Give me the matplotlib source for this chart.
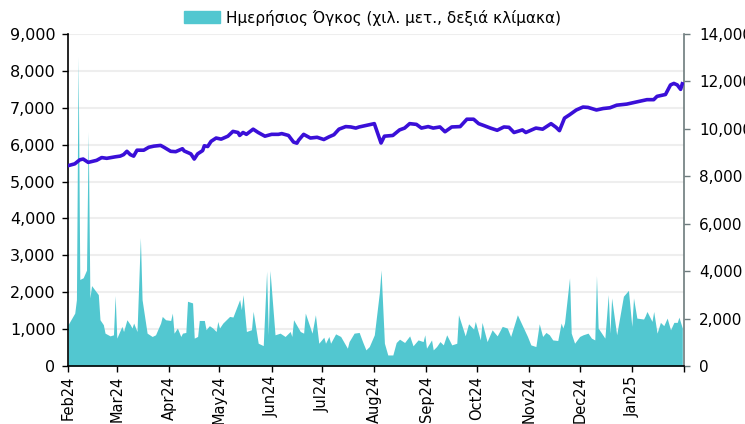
import pandas as pd
import matplotlib.pyplot as plt
from matplotlib.patches import Patch
from matplotlib.ticker import FuncFormatter

# index level (left scale)
line_dates = ["2024-02-01", "2024-02-05", "2024-02-08", "2024-02-10", "2024-02-13", "2024-02-18",
              "2024-02-21", "2024-02-24", "2024-02-29", "2024-03-03", "2024-03-05", "2024-03-07",
              "2024-03-09", "2024-03-11", "2024-03-13", "2024-03-17", "2024-03-20", "2024-03-23",
              "2024-03-27", "2024-03-29", "2024-04-02", "2024-04-05", "2024-04-09", "2024-04-10",
              "2024-04-13", "2024-04-14", "2024-04-16", "2024-04-18", "2024-04-21", "2024-04-22",
              "2024-04-24", "2024-04-26", "2024-04-29", "2024-05-02", "2024-05-06", "2024-05-09",
              "2024-05-12", "2024-05-13", "2024-05-15", "2024-05-17", "2024-05-21", "2024-05-24",
              "2024-05-28", "2024-06-01", "2024-06-05", "2024-06-07", "2024-06-11", "2024-06-14",
              "2024-06-16", "2024-06-17", "2024-06-20", "2024-06-24", "2024-06-28", "2024-07-02",
              "2024-07-05", "2024-07-08", "2024-07-11", "2024-07-15", "2024-07-18", "2024-07-21",
              "2024-07-23", "2024-07-27", "2024-07-29", "2024-08-01", "2024-08-05", "2024-08-07",
              "2024-08-12", "2024-08-16", "2024-08-19", "2024-08-22", "2024-08-26", "2024-08-29",
              "2024-09-02", "2024-09-05", "2024-09-09", "2024-09-12", "2024-09-16", "2024-09-21",
              "2024-09-25", "2024-09-29", "2024-10-02", "2024-10-05", "2024-10-09", "2024-10-13",
              "2024-10-17", "2024-10-20", "2024-10-23", "2024-10-28", "2024-10-30", "2024-11-05",
              "2024-11-09", "2024-11-14", "2024-11-17", "2024-11-19", "2024-11-22", "2024-11-25",
              "2024-11-29", "2024-12-03", "2024-12-06", "2024-12-11", "2024-12-15", "2024-12-19",
              "2024-12-23", "2024-12-29", "2025-01-04", "2025-01-10", "2025-01-14", "2025-01-16",
              "2025-01-21", "2025-01-24", "2025-01-26", "2025-01-28", "2025-01-30", "2025-01-31"]
line_values = [5430, 5480, 5590, 5610, 5520, 5575, 5650, 5630, 5670, 5690, 5730, 5820,
               5730, 5690, 5850, 5850, 5930, 5960, 5980, 5930, 5820, 5810, 5890, 5830,
               5770, 5750, 5610, 5750, 5840, 5970, 5950, 6090, 6180, 6150, 6230, 6360,
               6330, 6250, 6330, 6280, 6420, 6330, 6230, 6280, 6280, 6300, 6250, 6070,
               6040, 6120, 6280, 6180, 6200, 6140, 6210, 6270, 6420, 6490, 6480, 6450,
               6480, 6520, 6540, 6570, 6045, 6230, 6250, 6400, 6450, 6570, 6550, 6450,
               6490, 6450, 6480, 6350, 6480, 6490, 6690, 6690, 6570, 6520, 6450, 6390,
               6480, 6470, 6330, 6400, 6330, 6450, 6420, 6570, 6470, 6380, 6720, 6810,
               6940, 7020, 7010, 6940, 6980, 7000, 7070, 7100, 7160, 7220, 7220, 7310,
               7360, 7620, 7660, 7620, 7500, 7650]

# daily volume (right scale)
vol_dates = ["2024-02-01", "2024-02-05", "2024-02-06", "2024-02-07", "2024-02-08", "2024-02-10",
             "2024-02-12", "2024-02-13", "2024-02-14", "2024-02-15", "2024-02-19", "2024-02-20",
             "2024-02-22", "2024-02-23", "2024-02-26", "2024-02-28", "2024-02-29", "2024-03-01",
             "2024-03-04", "2024-03-05", "2024-03-07", "2024-03-09", "2024-03-10", "2024-03-11",
             "2024-03-13", "2024-03-15", "2024-03-16", "2024-03-19", "2024-03-22", "2024-03-24",
             "2024-03-27", "2024-03-28", "2024-03-30", "2024-04-02", "2024-04-03", "2024-04-04",
             "2024-04-06", "2024-04-08", "2024-04-09", "2024-04-11", "2024-04-12", "2024-04-15",
             "2024-04-16", "2024-04-18", "2024-04-19", "2024-04-22", "2024-04-23", "2024-04-25",
             "2024-04-27", "2024-04-29", "2024-04-30", "2024-05-01", "2024-05-03", "2024-05-07",
             "2024-05-09", "2024-05-13", "2024-05-14", "2024-05-15", "2024-05-17", "2024-05-20",
             "2024-05-21", "2024-05-24", "2024-05-27", "2024-05-29", "2024-05-30", "2024-05-31",
             "2024-06-03", "2024-06-06", "2024-06-09", "2024-06-12", "2024-06-13", "2024-06-14",
             "2024-06-18", "2024-06-20", "2024-06-21", "2024-06-25", "2024-06-27", "2024-06-29",
             "2024-07-02", "2024-07-03", "2024-07-05", "2024-07-06", "2024-07-09", "2024-07-12",
             "2024-07-16", "2024-07-17", "2024-07-20", "2024-07-23", "2024-07-25", "2024-07-27",
             "2024-07-29", "2024-08-01", "2024-08-04", "2024-08-05", "2024-08-07", "2024-08-09",
             "2024-08-12", "2024-08-14", "2024-08-16", "2024-08-19", "2024-08-22", "2024-08-24",
             "2024-08-27", "2024-08-30", "2024-08-31", "2024-09-01", "2024-09-04", "2024-09-05",
             "2024-09-07", "2024-09-09", "2024-09-11", "2024-09-13", "2024-09-16", "2024-09-19",
             "2024-09-20", "2024-09-24", "2024-09-26", "2024-09-29", "2024-09-30", "2024-10-03",
             "2024-10-04", "2024-10-07", "2024-10-10", "2024-10-13", "2024-10-16", "2024-10-19",
             "2024-10-21", "2024-10-23", "2024-10-25", "2024-10-31", "2024-11-02", "2024-11-05",
             "2024-11-07", "2024-11-09", "2024-11-11", "2024-11-13", "2024-11-15", "2024-11-18",
             "2024-11-20", "2024-11-21", "2024-11-22", "2024-11-25", "2024-11-26", "2024-11-28",
             "2024-12-01", "2024-12-03", "2024-12-06", "2024-12-08", "2024-12-10", "2024-12-11",
             "2024-12-12", "2024-12-16", "2024-12-18", "2024-12-19", "2024-12-20", "2024-12-23",
             "2024-12-27", "2024-12-30", "2025-01-01", "2025-01-02", "2025-01-04", "2025-01-08",
             "2025-01-09", "2025-01-10", "2025-01-13", "2025-01-14", "2025-01-16", "2025-01-18",
             "2025-01-20", "2025-01-22", "2025-01-24", "2025-01-26", "2025-01-28", "2025-01-29",
             "2025-01-31"]
vol_values = [1740, 2230, 2800, 13040, 3650, 3720, 4045, 9880, 2870, 3390, 3010, 1950,
              1740, 1385, 1270, 1315, 2970, 1175, 1670, 1455, 1950, 1740, 1600, 1810,
              1455, 5415, 2800, 1385, 1245, 1315, 1810, 2090, 1950, 1920, 2230, 1385,
              1600, 1245, 1385, 1415, 2730, 2660, 1175, 1245, 1920, 1920, 1530, 1700,
              1600, 1455, 1880, 1600, 1810, 2090, 2065, 2800, 2375, 3010, 1455, 1530,
              2305, 960, 860, 4000, 1315, 4030, 1315, 1385, 1245, 1455, 1245, 1950,
              1455, 1385, 2230, 1385, 2160, 960, 1215, 960, 1245, 960, 1355, 1245,
              750, 1030, 1385, 1415, 1030, 680, 820, 1315, 3100, 4050, 960, 465,
              465, 990, 1130, 990, 1270, 850, 1100, 1030, 1315, 750, 1100, 680,
              820, 1030, 890, 1315, 890, 960, 2160, 1270, 1780, 1555, 1880, 1100,
              1840, 1030, 1525, 1270, 1670, 1600, 1245, 1700, 2160, 1245, 890, 820,
              1780, 1245, 1415, 1315, 1100, 1075, 1810, 1600, 1810, 3715, 1385, 960,
              1245, 1315, 1385, 1175, 1100, 3815, 1600, 1175, 3010, 1385, 2870, 1315,
              2940, 3190, 1670, 2870, 2020, 1980, 2120, 2300, 1880, 2300, 1385, 1840,
              1700, 2020, 1525, 1840, 1840, 2060, 1600]

line_x = pd.to_datetime(line_dates)
vol_x = pd.to_datetime(vol_dates)

area_color = "#52C7D0"
line_color = "#3A0FD8"

fig = plt.figure(figsize=(7.45, 4.24), dpi=100)
ax = fig.add_axes([0.0913, 0.1368, 0.8268, 0.783])
ax2 = ax.twinx()

# area on the right scale, drawn underneath
ax2.fill_between(vol_x, vol_values, 0, color=area_color, linewidth=0, zorder=2)
ax2.set_ylim(0, 14000)
ax2.set_yticks(range(0, 14001, 2000))

# line on the left scale, on top
ax.plot(line_x, line_values, color=line_color, linewidth=2.6, zorder=3)
ax.set_ylim(0, 9000)
ax.set_yticks(range(0, 9001, 1000))
ax.set_zorder(ax2.get_zorder() + 1)
ax.patch.set_visible(False)

# grid behind the area, at the left ticks
for v in ax.get_yticks():
    ax2.axhline(v * 14000 / 9000, color="#eeeeee", linewidth=1.5, zorder=1)

# month ticks, the last one without a label
months = pd.date_range("2024-02-01", "2025-02-01", freq="MS")
month_labels = [m.strftime("%b%y") for m in months[:-1]] + [""]
ax.set_xlim(months[0], months[-1])
ax.set_xticks(months)
ax.set_xticklabels(month_labels, rotation=90)

fmt = FuncFormatter(lambda v, p: f"{int(v):,}")
ax.yaxis.set_major_formatter(fmt)
ax2.yaxis.set_major_formatter(fmt)

for a in (ax, ax2):
    a.spines["top"].set_visible(False)
    a.tick_params(labelsize=11.5, length=4, width=1)
ax.tick_params(axis="x", labelsize=10.5, pad=3)
ax.tick_params(axis="y", pad=5)
ax2.tick_params(axis="y", pad=7, labelsize=11, color="#6d7b7d")
ax.spines["right"].set_visible(False)
ax2.spines["left"].set_visible(False)
ax2.spines["bottom"].set_visible(False)
ax.spines["left"].set_linewidth(1.2)
ax.spines["bottom"].set_linewidth(1.2)
ax2.spines["right"].set_color("#6d7b7d")
ax2.spines["right"].set_linewidth(1.2)

fig.legend(handles=[Patch(color=area_color)],
           labels=["Ημερήσιος Όγκος (χιλ. μετ., δεξιά κλίμακα)"],
           loc="upper center", bbox_to_anchor=(0.5, 1.01), frameon=False,
           fontsize=11, handlelength=2.3, handleheight=0.8, handletextpad=0.4)

fig.savefig("out.png", dpi=100)
